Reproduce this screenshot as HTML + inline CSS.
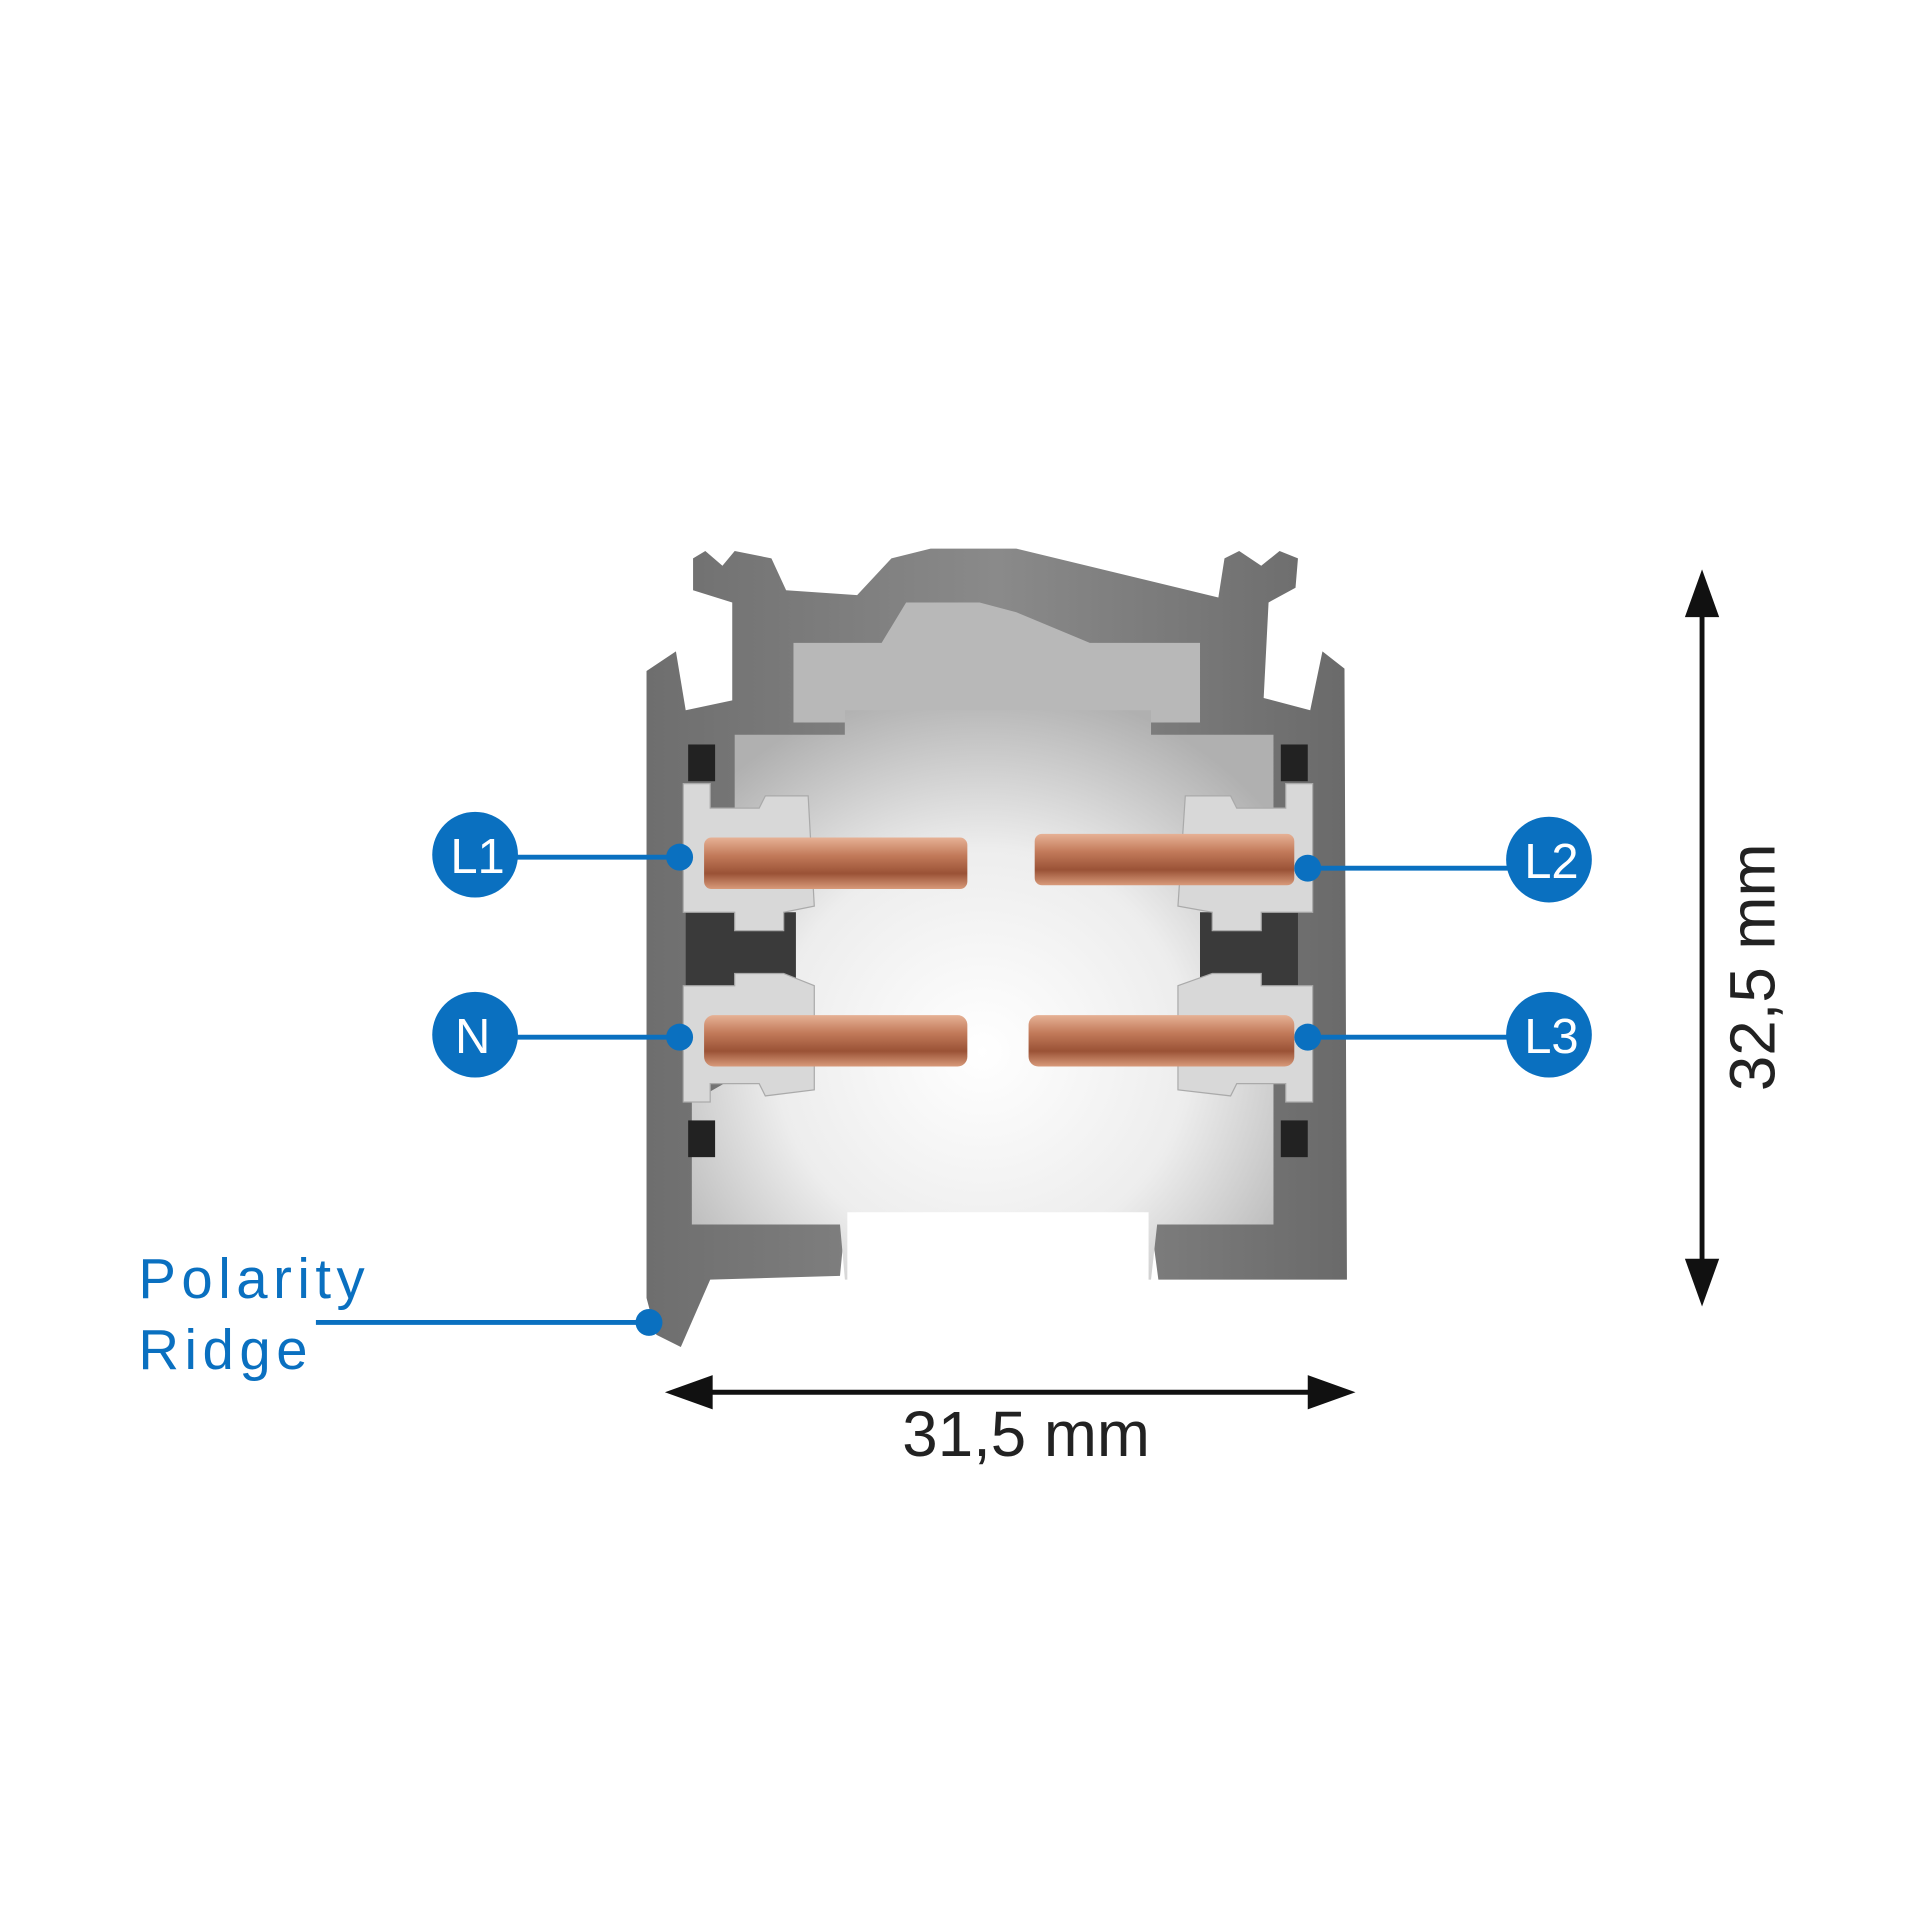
<!DOCTYPE html>
<html><head><meta charset="utf-8"><style>html,body{margin:0;padding:0;background:#fff}svg{display:block}</style></head>
<body>
<svg width="1920" height="1920" viewBox="0 0 1568 1568" xmlns="http://www.w3.org/2000/svg">
<defs>
<linearGradient id="metal" x1="0" y1="0" x2="1" y2="0">
<stop offset="0" stop-color="#6e6e6e"/><stop offset="0.5" stop-color="#8a8a8a"/><stop offset="1" stop-color="#6a6a6a"/></linearGradient>
<radialGradient id="inner" cx="0.5" cy="0.6" r="0.65">
<stop offset="0" stop-color="#ffffff"/><stop offset="0.55" stop-color="#ededed"/><stop offset="1" stop-color="#b0b0b0"/></radialGradient>
<linearGradient id="cu" x1="0" y1="0" x2="0" y2="1">
<stop offset="0" stop-color="#e6b195"/><stop offset="0.35" stop-color="#c27a5a"/><stop offset="0.7" stop-color="#9a5236"/><stop offset="1" stop-color="#d89a7a"/></linearGradient>
</defs>
<path fill="url(#metal)" d="M528,548 L552,532 L560,580 L598,572 L598,492 L566,482 L566,456 L576,450 L590,462 L600,450 L630,456 L642,482 L700,486 L728,456 L760,448 L830,448 L995,488 L1000,456 L1012,450 L1030,462 L1045,450 L1060,456 L1058,480 L1036,492 L1032,570 L1070,580 L1080,532 L1098,546 L1100,1045 L946,1045 L940,1000 L690,1000 L686,1042 L580,1045 L556,1100 L536,1090 L528,1060 Z"/>
<path fill="#b8b8b8" d="M648,525 L720,525 L740,492 L800,492 L830,500 L890,525 L980,525 L980,590 L940,590 L940,600 L690,600 L690,590 L648,590 Z"/>
<path fill="url(#inner)" d="M600,600 L690,600 L690,580 L940,580 L940,600 L1040,600 L1040,1000 L945,1000 L940,1045 L690,1045 L686,1000 L565,1000 L565,900 L600,880 Z"/>
<rect x="692" y="990" width="246" height="60" fill="#fff"/>
<rect x="562" y="608" width="22" height="30" fill="#222"/>
<rect x="1046" y="608" width="22" height="30" fill="#222"/>
<rect x="562" y="915" width="22" height="30" fill="#222"/>
<rect x="1046" y="915" width="22" height="30" fill="#222"/>
<rect x="560" y="745" width="90" height="60" fill="#3a3a3a"/>
<rect x="980" y="745" width="80" height="60" fill="#3a3a3a"/>
<path fill="#d8d8d8" stroke="#aaa" d="M558,640 L580,640 L580,660 L620,660 L625,650 L660,650 L665,740 L640,745 L640,760 L600,760 L600,745 L558,745 Z"/>
<path fill="#d8d8d8" stroke="#aaa" d="M558,805 L600,805 L600,795 L640,795 L665,805 L665,890 L625,895 L620,885 L580,885 L580,900 L558,900 Z"/>
<path fill="#d8d8d8" stroke="#aaa" d="M1072,640 L1050,640 L1050,660 L1010,660 L1005,650 L968,650 L962,740 L990,745 L990,760 L1030,760 L1030,745 L1072,745 Z"/>
<path fill="#d8d8d8" stroke="#aaa" d="M1072,805 L1030,805 L1030,795 L990,795 L962,805 L962,890 L1005,895 L1010,885 L1050,885 L1050,900 L1072,900 Z"/>
<rect x="575" y="684" width="215" height="42" rx="6" fill="url(#cu)"/>
<rect x="575" y="829" width="215" height="42" rx="8" fill="url(#cu)"/>
<rect x="845" y="681" width="212" height="42" rx="6" fill="url(#cu)"/>
<rect x="840" y="829" width="217" height="42" rx="8" fill="url(#cu)"/>
<g fill="#0a70c0" stroke="#0a70c0">
<line x1="420" y1="700" x2="555" y2="700" stroke-width="4"/>
<line x1="420" y1="847" x2="555" y2="847" stroke-width="4"/>
<line x1="1068" y1="709" x2="1235" y2="709" stroke-width="4"/>
<line x1="1068" y1="847" x2="1235" y2="847" stroke-width="4"/>
<line x1="258" y1="1080" x2="530" y2="1080" stroke-width="4"/>
<circle cx="555" cy="700" r="11" stroke="none"/><circle cx="555" cy="847" r="11" stroke="none"/>
<circle cx="1068" cy="709" r="11" stroke="none"/><circle cx="1068" cy="847" r="11" stroke="none"/>
<circle cx="530" cy="1080" r="11" stroke="none"/>
<circle cx="388" cy="698" r="35" stroke="none"/><circle cx="388" cy="845" r="35" stroke="none"/>
<circle cx="1265" cy="702" r="35" stroke="none"/><circle cx="1265" cy="845" r="35" stroke="none"/>
</g>
<g fill="#fff" font-family="Liberation Sans, sans-serif" font-size="40" text-anchor="middle" stroke="none">
<text x="390" y="713">L1</text><text x="386" y="860">N</text>
<text x="1267" y="717">L2</text><text x="1267" y="860">L3</text>
</g>
<g fill="#0a70c0" font-family="Liberation Sans, sans-serif" font-size="46">
<text x="113" y="1060" letter-spacing="4.5">Polarity</text>
<text x="113" y="1118" letter-spacing="4.5">Ridge</text>
</g>
<g fill="#111" stroke="#111">
<line x1="570" y1="1137" x2="1080" y2="1137" stroke-width="4"/>
<path d="M543,1137 L582,1123 L582,1151 Z" stroke="none"/>
<path d="M1107,1137 L1068,1123 L1068,1151 Z" stroke="none"/>
<line x1="1390" y1="495" x2="1390" y2="1040" stroke-width="4"/>
<path d="M1390,465 L1376,504 L1404,504 Z" stroke="none"/>
<path d="M1390,1067 L1376,1028 L1404,1028 Z" stroke="none"/>
</g>
<g fill="#222" font-family="Liberation Sans, sans-serif" font-size="52">
<text x="838" y="1189" text-anchor="middle">31,5 mm</text>
<text x="0" y="0" text-anchor="middle" transform="translate(1449,790) rotate(-90)">32,5 mm</text>
</g>
</svg>
</body></html>
